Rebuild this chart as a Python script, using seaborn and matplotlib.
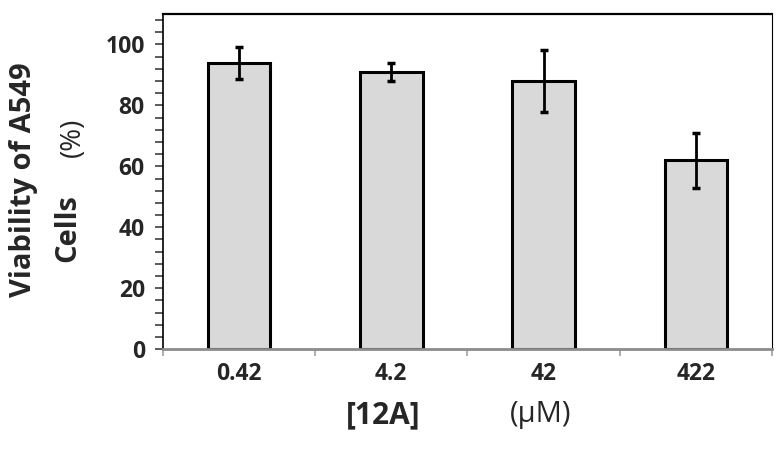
import matplotlib
matplotlib.use("Agg")
import matplotlib.pyplot as plt
from matplotlib.ticker import MultipleLocator
import pandas as pd
import seaborn as sns

# data
concentrations = ["0.42", "4.2", "42", "422"]
viability = [94, 91, 88, 62]
viability_err = [5.3, 3.0, 10.3, 9.0]

df = pd.DataFrame({"conc": concentrations, "viability": viability})

sns.set_style("white")
plt.rcParams["font.family"] = ["Open Sans", "DejaVu Sans"]

fig = plt.figure(figsize=(7.83, 4.5), dpi=100)
ax = fig.add_axes([0.208, 0.224, 0.778, 0.745])

sns.barplot(data=df, x="conc", y="viability", color="#d9d9d9", edgecolor="black",
            linewidth=2.2, width=0.41, errorbar=None, ax=ax, saturation=1)
ax.errorbar(range(len(concentrations)), viability, yerr=viability_err, fmt="none",
            ecolor="black", elinewidth=2, capsize=3, capthick=2.5)

ax.set_ylim(0, 110)
ax.set_xlim(-0.5, len(concentrations) - 0.5)
ax.yaxis.set_major_locator(MultipleLocator(20))
ax.yaxis.set_minor_locator(MultipleLocator(4))
ax.set_xticks([i - 0.5 for i in range(len(concentrations) + 1)], minor=True)
ax.tick_params(axis="y", which="both", direction="out", left=True, length=6, width=1.2,
               color="#404040", labelsize=16.5, pad=7)
ax.tick_params(axis="x", which="major", length=0, labelsize=16.5, pad=9)
ax.tick_params(axis="x", which="minor", direction="out", bottom=True, length=5, width=1.2,
               color="#a0a0a0")
for lbl in ax.get_xticklabels() + ax.get_yticklabels():
    lbl.set_fontweight("bold")

for side in ["top", "right", "left"]:
    ax.spines[side].set_visible(True)
    ax.spines[side].set_color("black")
ax.spines["top"].set_linewidth(1.6)
ax.spines["right"].set_linewidth(0.8)
ax.spines["left"].set_linewidth(1.2)
ax.spines["bottom"].set_color("#8c8c8c")
ax.spines["bottom"].set_linewidth(2)

ax.set_xlabel("")
ax.set_ylabel("")

# axis titles placed like the original figure
fig.text(0.030, 0.60, "Viability of A549", rotation=90, ha="center", va="center",
         fontsize=21, fontweight="bold")
fig.text(0.087, 0.493, "Cells", rotation=90, ha="center", va="center",
         fontsize=21, fontweight="bold")
fig.text(0.093, 0.695, "(%)", rotation=90, ha="center", va="center", fontsize=20)
fig.text(0.49, 0.078, "[12A]", ha="center", va="center", fontsize=21.5, fontweight="bold")
fig.text(0.69, 0.078, "(\u03bcM)", ha="center", va="center", fontsize=21)

fig.savefig("out.png", dpi=100)
